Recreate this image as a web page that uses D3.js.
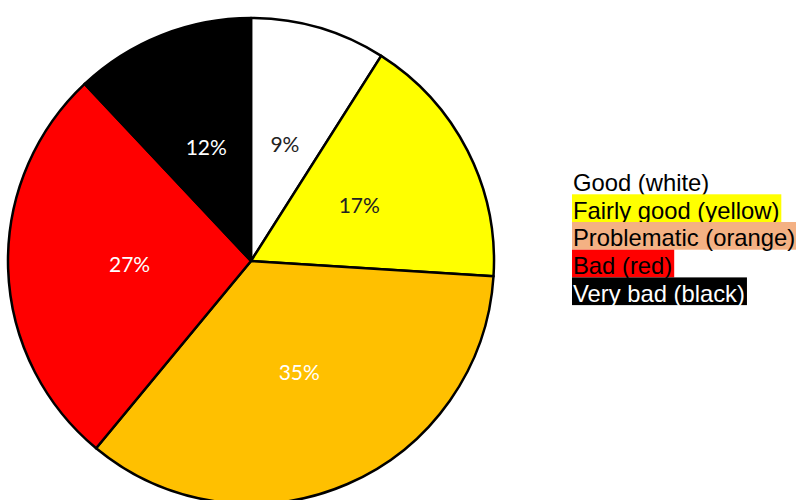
<!DOCTYPE html>
<html>
<head>
<meta charset="utf-8">
<script src="https://cdn.jsdelivr.net/npm/d3@7"></script>
<style>
  body { margin: 0; background: #fff; }
  svg { display: block; }
</style>
</head>
<body>
<div id="chart"></div>
<script>
// Data
var categories = ["Good (white)", "Fairly good (yellow)", "Problematic (orange)", "Bad (red)", "Very bad (black)"];
var shares = [9, 17, 35, 27, 12];
var sliceColors = ["#FFFFFF", "#FFFF00", "#FFC000", "#FF0000", "#000000"];
var labelColors = ["#222222", "#222222", "#FFFFFF", "#FFFFFF", "#FFFFFF"];
var legendColors = ["#FFFFFF", "#FFFF00", "#F4B183", "#FF0000", "#000000"];
var legendTextColors = ["#000000", "#000000", "#000000", "#000000", "#FFFFFF"];

var svgWidth = 796;
var svgHeight = 500;
var radius = 243;
var cx = 251, cy = 261;

var svg = d3.select("#chart")
  .append("svg")
  .attr("width", svgWidth)
  .attr("height", svgHeight);

var pieGroup = svg.append("g")
  .attr("transform", `translate(${cx}, ${cy})`);

var pie = d3.pie().sort(null).value(d => d);
var arc = d3.arc().innerRadius(0).outerRadius(radius);

var arcs = pie(shares);

pieGroup.selectAll("path")
  .data(arcs)
  .enter().append("path")
    .attr("d", arc)
    .attr("fill", (d, i) => sliceColors[i])
    .attr("stroke", "#000")
    .attr("stroke-width", 2.5)
    .attr("stroke-linejoin", "round");

// percentage labels
pieGroup.selectAll("text.pct")
  .data(arcs)
  .enter().append("text")
    .attr("class", "pct")
    .attr("transform", d => `translate(${arc.centroid(d)})`)
    .attr("text-anchor", "middle")
    .attr("dy", "0.35em")
    .attr("font-family", "Lato, 'Open Sans', sans-serif")
    .attr("font-size", 21)
    .attr("fill", (d, i) => labelColors[i])
    .text(d => d.data + "%");

// legend with highlighted text backgrounds
var legendX = 572;
var rowTop = 166.6;
var rowH = 27.7;

var legend = svg.append("g");
var rows = legend.selectAll("g")
  .data(categories)
  .enter().append("g")
    .attr("transform", (d, i) => `translate(${legendX}, ${rowTop + i * rowH})`);

var bgs = rows.append("rect")
  .attr("x", 0)
  .attr("y", 0)
  .attr("height", rowH)
  .attr("fill", (d, i) => legendColors[i]);

var texts = rows.append("text")
  .attr("x", 1)
  .attr("y", 24.4)
  .attr("font-family", "'Liberation Sans', Arial, sans-serif")
  .attr("font-size", 23.8)
  .attr("fill", (d, i) => legendTextColors[i])
  .text(d => d);

texts.each(function(d, i) {
  var w = this.getComputedTextLength();
  d3.select(bgs.nodes()[i]).attr("width", Math.min(w + 3, svgWidth - legendX));
});
</script>
</body>
</html>
